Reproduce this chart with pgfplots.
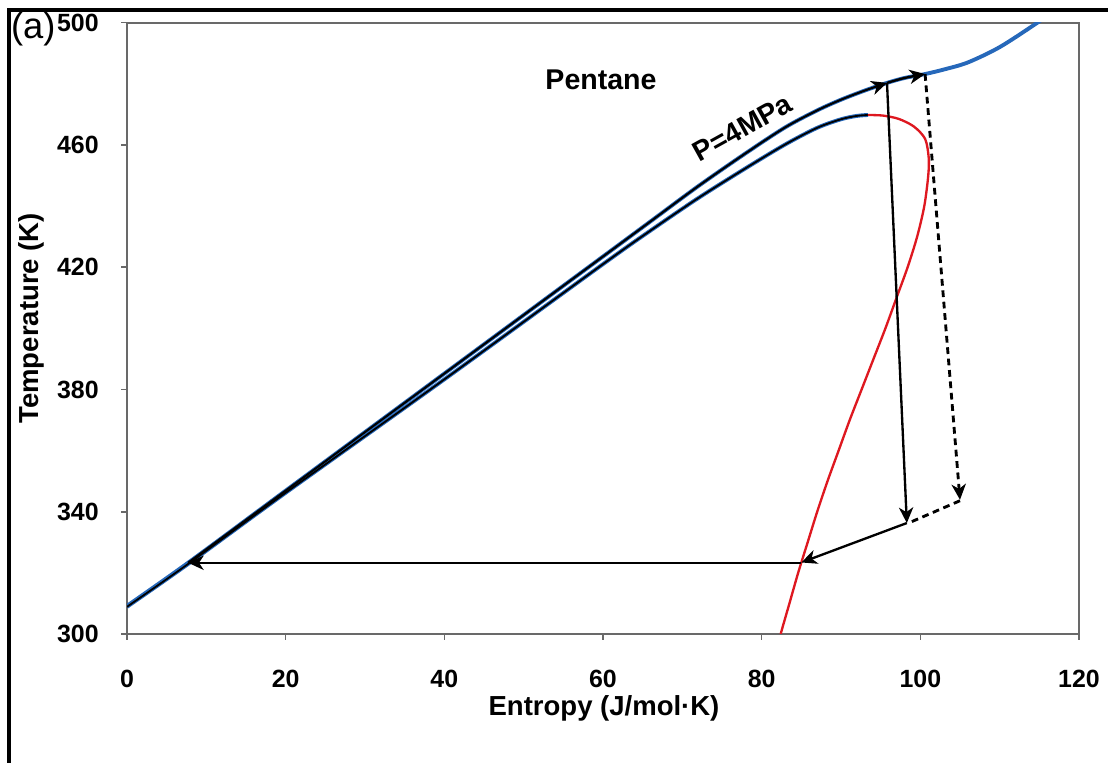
\documentclass[border=0pt]{standalone}
\usepackage{fontspec}
\setmainfont{Liberation Sans}
\usepackage{pgfplots}
\pgfplotsset{compat=1.18}
\usetikzlibrary{arrows.meta}
\definecolor{isoblue}{RGB}{38,104,186}
\definecolor{satred}{RGB}{222,24,32}
\definecolor{axgray}{RGB}{105,105,105}

\begin{document}
\begin{tikzpicture}
\useasboundingbox (0,0) rectangle (15,10.3295);
% frame of the panel (left and top only, as cropped)
\draw[line width=1.2pt] (0.1218,0) -- (0.1218,10.194) -- (15,10.194);
\node[font=\fontsize{14}{16}\selectfont] at (0.45,9.94) {(a)};
\node[font=\fontsize{10.6}{12}\selectfont\bfseries, rotate=90] at (0.42,6.02) {Temperature (K)};
\node[font=\fontsize{10.6}{12}\selectfont\bfseries] at (8.177,0.745) {Entropy (J/mol·K)};

\begin{axis}[
  at={(1.7193cm,1.7464cm)}, anchor=south west,
  scale only axis, width=12.888cm, height=8.2758cm,
  xmin=0, xmax=120, ymin=300, ymax=500,
  xtick={0,20,...,120}, ytick={300,340,...,500},
  xtick pos=bottom, ytick pos=left,
  tick align=outside, major tick length=0.08cm,
  axis line style={axgray, line width=0.8pt},
  tick style={axgray, line width=0.6pt},
  ticklabel style={font=\fontsize{9.6}{11}\selectfont\bfseries},
  /pgf/number format/assume math mode=true,
  xticklabel style={yshift=-0.28cm},
  yticklabel style={xshift=-0.18cm},
  every axis plot/.append style={line join=round},
]
% isobar P = 4 MPa
\addplot[isoblue, line width=1.5pt, smooth] coordinates {
  (0,309.2) (7.7,323.3) (20,346.9) (40,385.2) (60,423.5) (66,435.0)
  (72,446.5) (78,457.3) (83,465.8) (87,471.3) (90,474.8) (93,477.8)
  (95.8,480.3) (98,481.9) (100.6,483.2) (103,484.7) (106,487.0)
  (110,492.0) (114.7,499.9) (116,502.5)};
% saturated liquid line
\addplot[isoblue, line width=1.5pt, smooth] coordinates {
  (0,308.9) (7.7,322.9) (20,346.2) (40,383.3) (60,421.0) (66,432.0)
  (72,442.6) (78,452.4) (83,460.2) (87,465.6) (90,468.4) (92,469.5)
  (93.4,469.8)};
\addplot[black, line width=0.7pt, smooth] coordinates {
  (0,308.9) (7.7,322.9) (20,346.2) (40,383.3) (60,421.0) (66,432.0)
  (72,442.6) (78,452.4) (83,460.2) (87,465.6) (90,468.4) (92,469.5)
  (93.4,469.8)};
% saturated vapour line
\addplot[satred, line width=0.9pt, smooth] coordinates {
  (93.4,469.8) (95.3,469.6) (97.3,468.5) (99.2,466.0) (100.6,462.0)
  (101.05,456.0) (101.0,450.0) (100.5,440.0) (99.6,430.0) (98.4,420.0)
  (97.0,410.0) (95.6,400.0) (94.1,390.0) (92.6,380.0) (91.1,370.0)
  (89.7,360.0) (88.3,350.0) (87.0,340.0) (85.8,330.0) (84.6,320.0)
  (83.5,310.0) (82.4,300.0) (82.3,298.0)};
% cycle path
\addplot[black, line width=0.8pt, smooth, -{Stealth[length=6pt,width=5.5pt,inset=1.8pt]}] coordinates {
  (7.7,323.3) (20,346.9) (40,385.2) (60,423.5) (66,435.0)
  (72,446.5) (78,457.3) (83,465.8) (87,471.3) (90,474.8) (93,477.8)
  (95.8,480.3)};
\addplot[black, line width=0.9pt, smooth, -{Stealth[length=6pt,width=5.5pt,inset=1.8pt]}] coordinates {
  (95.8,480.3) (98,481.9) (100.6,483.2)};
\addplot[black, line width=0.9pt, -{Stealth[length=6pt,width=5.5pt,inset=1.8pt]}] coordinates {
  (95.8,480.3) (98.3,336.3)};
\addplot[black, line width=1.1pt, dash pattern=on 2.6pt off 1.8pt, -{Stealth[length=6pt,width=5.5pt,inset=1.8pt]}] coordinates {
  (100.6,483.2) (105.0,343.9)};
\addplot[black, line width=1.1pt, dash pattern=on 2.6pt off 1.8pt] coordinates {
  (105.0,343.6) (98.6,336.4)};
\addplot[black, line width=0.9pt, -{Stealth[length=6pt,width=5.5pt,inset=1.8pt]}] coordinates {
  (98.3,336.3) (85.0,323.4)};
\addplot[black, line width=0.9pt, -{Stealth[length=6pt,width=5.5pt,inset=1.8pt]}] coordinates {
  (85.0,323.3) (7.7,323.3)};
\node[font=\fontsize{11}{13}\selectfont\bfseries] at (axis cs:59.75,481.3) {Pentane};
\node[font=\fontsize{10.8}{12}\selectfont\bfseries, rotate=29] at (axis cs:77.6,465.6) {P=4MPa};
\end{axis}
\end{tikzpicture}
\end{document}
